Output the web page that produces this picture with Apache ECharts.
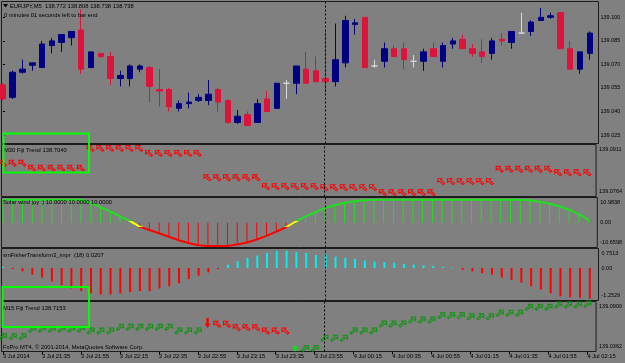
<!DOCTYPE html>
<html>
<head>
<meta charset="utf-8">
</head>
<body style="margin:0;background:#808080">
<div id="container" style="width:625px;height:363px"></div>
<script src="https://fastly.jsdelivr.net/npm/echarts@6.0.0/dist/echarts.min.js"></script>
<script>
// ---- data ----
const timeLabels = ['3 Jul 2014', '3 Jul 21:35', '3 Jul 21:55', '3 Jul 22:15', '3 Jul 22:35', '3 Jul 22:55',
  '3 Jul 23:15', '3 Jul 23:35', '3 Jul 23:55', '4 Jul 00:15', '4 Jul 00:35', '4 Jul 00:55',
  '4 Jul 01:15', '4 Jul 01:35', '4 Jul 01:55', '4 Jul 02:15'];
const labelEvery = 4;      // one time label every 4 bars (20 min on M5)
const daySeparator = 33;   // bar index of 4 Jul 00:00

// [open, close, low, high]
const candles = [
  [139.057, 139.048, 139.047, 139.058], [139.049, 139.065, 139.048, 139.066], [139.065, 139.067, 139.064, 139.073],
  [139.0695, 139.071, 139.066, 139.071], [139.068, 139.083, 139.068, 139.085], [139.082, 139.085, 139.077, 139.087],
  [139.084, 139.089, 139.078, 139.089], [139.087, 139.091, 139.082, 139.091], [139.092, 139.067, 139.064, 139.105],
  [139.068, 139.078, 139.068, 139.078], [139.077, 139.075, 139.074, 139.077], [139.075, 139.061, 139.057, 139.078],
  [139.061, 139.063, 139.056, 139.066], [139.061, 139.069, 139.056, 139.070], [139.067, 139.069, 139.065, 139.070],
  [139.068, 139.056, 139.046, 139.069], [139.054, 139.053, 139.043, 139.067], [139.054, 139.043, 139.040, 139.055],
  [139.042, 139.045, 139.040, 139.047], [139.045, 139.046, 139.042, 139.052], [139.047, 139.049, 139.046, 139.051],
  [139.047, 139.051, 139.044, 139.060], [139.054, 139.046, 139.040, 139.055], [139.047, 139.033, 139.032, 139.048],
  [139.033, 139.037, 139.032, 139.041], [139.038, 139.031, 139.031, 139.040], [139.033, 139.045, 139.033, 139.048],
  [139.048, 139.040, 139.040, 139.053], [139.042, 139.058, 139.042, 139.058], [139.058, 139.058, 139.048, 139.060],
  [139.058, 139.069, 139.051, 139.069], [139.067, 139.058, 139.058, 139.078], [139.066, 139.059, 139.059, 139.075],
  [139.061, 139.059, 139.052, 139.092], [139.059, 139.073, 139.056, 139.096], [139.071, 139.098, 139.068, 139.101],
  [139.0955, 139.0965, 139.089, 139.099], [139.100, 139.068, 139.068, 139.100], [139.069, 139.069, 139.068, 139.073],
  [139.072, 139.080, 139.068, 139.084], [139.080, 139.075, 139.075, 139.082], [139.080, 139.073, 139.067, 139.084],
  [139.072, 139.072, 139.068, 139.076], [139.072, 139.078, 139.066, 139.080], [139.080, 139.075, 139.075, 139.084],
  [139.072, 139.082, 139.068, 139.084], [139.083, 139.085, 139.080, 139.087], [139.086, 139.080, 139.080, 139.089],
  [139.080, 139.077, 139.075, 139.083], [139.078, 139.075, 139.071, 139.086], [139.077, 139.085, 139.073, 139.087],
  [139.086, 139.085, 139.082, 139.090], [139.084, 139.091, 139.080, 139.091], [139.090, 139.090, 139.090, 139.103],
  [139.091, 139.097, 139.088, 139.098], [139.098, 139.100, 139.098, 139.106], [139.100, 139.101, 139.099, 139.103],
  [139.103, 139.080, 139.080, 139.103], [139.080, 139.067, 139.067, 139.085], [139.067, 139.078, 139.064, 139.078],
  [139.077, 139.090, 139.073, 139.091]
];
const priceTicks = [139.025, 139.040, 139.055, 139.070, 139.085, 139.100];
const priceRange = [139.0196, 139.1101];

const m30Trend = [
  139.0858, 139.0858, 139.0858,
  139.0844, 139.0844, 139.0844, 139.0844, 139.0844, 139.0844,
  139.0900, 139.0900, 139.0900, 139.0900, 139.0900, 139.0900,
  139.0886, 139.0886, 139.0886, 139.0886, 139.0886, 139.0886,
  139.0817, 139.0817, 139.0817, 139.0817, 139.0817, 139.0817,
  139.0792, 139.0792, 139.0792, 139.0792, 139.0792, 139.0792,
  139.0789, 139.0789, 139.0789, 139.0789, 139.0789, 139.0789,
  139.0775, 139.0775, 139.0775, 139.0775, 139.0775, 139.0775,
  139.0806, 139.0806, 139.0806, 139.0806, 139.0806, 139.0806,
  139.0841, 139.0841, 139.0841, 139.0841, 139.0841, 139.0841,
  139.0831, 139.0831, 139.0831, 139.0831
];
const m30Range = [139.0764, 139.0911];

const solarWind = [
  10, 10, 10, 10, 10, 10, 10, 10, 10, 8.7, 6.8, 5.0, 2.8, 0.9, -1.6, -3.1, -4.5, -6.0, -7.5, -8.7,
  -9.7, -10, -10, -10, -9.4, -8.5, -7.2, -5.6, -3.8, -1.9, 0.6, 2.8, 4.6, 6.5, 7.6, 8.7, 9.4, 9.8,
  10, 10, 10, 10, 10, 10, 10, 10, 10, 10, 10, 10, 10, 10, 10, 10,
  9.8, 9.1, 8.3, 7.2, 5.7, 3.8, 1.3
];
const solarRange = [-10.6598, 10.9838];

const fisher = [
  0.05, -0.04, -0.13, -0.26, -0.37, -0.52, -0.66, -0.79, -0.89, -0.98, -1.02, -1.02, -0.98, -0.93, -0.89,
  -0.89, -0.79, -0.70, -0.59, -0.43, -0.30, -0.17, -0.04, 0.13, 0.26, 0.39, 0.48, 0.58, 0.66, 0.66,
  0.62, 0.58, 0.50, 0.52, 0.44, 0.39, 0.35, 0.29, 0.25, 0.22, 0.20, 0.16, 0.13, 0.10, 0.08,
  0.04, 0.02, -0.07, -0.13, -0.20, -0.26, -0.37, -0.46, -0.56, -0.70, -0.83, -0.98, -1.09, -1.13, -1.15,
  -1.18
];
const fisherRange = [-1.2529, 0.7513];

const m15Up = [
  139.0521, 139.0521, 139.0521, 139.0601, 139.0601, 139.0601, 139.0601, 139.0601, 139.0601,
  139.0582, 139.0582, 139.0582, 139.0622, 139.0622, 139.0622, 139.0622, 139.0622, 139.0622,
  139.0582, 139.0582, 139.0582, null, null, null, null, null, null, null, null, null, null,
  139.0396, 139.0396, 139.0504, 139.0504, 139.0504, 139.0582, 139.0582, 139.0582,
  139.0658, 139.0658, 139.0658, 139.0701, 139.0701, 139.0701, 139.0747, 139.0747, 139.0747,
  139.0736, 139.0736, 139.0736, 139.0773, 139.0773, 139.0773, 139.0838, 139.0838, 139.0838,
  139.0862, 139.0862, 139.0862, 139.0870
];
const m15Down = [
  null, null, null, null, null, null, null, null, null, null, null, null, null, null, null, null,
  null, null, null, null, null, null, 139.0655, 139.0655, 139.0618, 139.0618, 139.0618,
  139.0582, 139.0582, 139.0582, null, null, null, null, null, null, null, null, null, null,
  null, null, null, null, null, null, null, null, null, null, null, null, null, null, null,
  null, null, null, null, null, null
];
const m15Range = [139.0362, 139.0900];
const sellSignal = [[21, 139.0669]];
const buySignal = [[30, 139.0396]];

// ---- chart ----
const FONT = 'Liberation Sans';
const FRAME = '#1c1c1c';
const GREEN = '#1fe01f';
const RED = '#ff0000';
const ARROW_RED = 'path://M0,0 L6,0 L4,2 L10,8 L8,10 L2,4 L0,6 Z';
const ARROW_GREEN = 'path://M10,0 L4,0 L6,2 L0,8 L2,10 L8,4 L10,6 Z';

const panels = [
  { top: 1.5, height: 142 },
  { top: 144.5, height: 52 },
  { top: 197.5, height: 50 },
  { top: 248.5, height: 52 },
  { top: 301.5, height: 50 }
];
const tickBars = timeLabels.map((t, i) => i * labelEvery);

const sepLine = {
  silent: true,
  symbol: ['none', 'none'],
  label: { show: false },
  lineStyle: { color: '#000', type: [2, 2], width: 1 },
  data: [{ xAxis: daySeparator }]
};

function edgeAxis(idx, range, labels) {
  const lo = range[0], hi = range[1];
  const txt = { fontSize: 5.5, fontFamily: FONT, color: '#000' };
  return {
    type: 'value', gridIndex: idx, position: 'right', min: lo, max: hi,
    splitLine: { show: false }, axisLine: { show: false }, axisTick: { show: false },
    axisLabel: {
      customValues: labels, margin: 3, fontSize: 5.5, fontFamily: FONT, color: '#000',
      formatter: function (v) {
        const s = v === 0 ? '0.00' : v.toFixed(4);
        if (Math.abs(v - hi) < 1e-9) return '{t|' + s + '}';
        if (Math.abs(v - lo) < 1e-9) return '{b|' + s + '}';
        return s;
      },
      rich: {
        t: Object.assign({ padding: [10, 0, 0, 0] }, txt),
        b: Object.assign({ padding: [0, 0, 10, 0] }, txt)
      }
    }
  };
}

const toPoints = arr => arr.map((v, i) => [i, v]).filter(d => d[1] != null);

const myChart = echarts.init(document.getElementById('container'), null, { renderer: 'canvas' });

const option = {
  animation: false,
  backgroundColor: '#808080',
  grid: panels.map(p => ({
    left: 1.5, right: 26.5, top: p.top, height: p.height,
    show: true, borderColor: FRAME, borderWidth: 1, backgroundColor: 'transparent'
  })),
  xAxis: panels.map((p, i) => ({
    type: 'value', gridIndex: i, min: -0.15, max: 60.89, show: i === 4,
    splitLine: { show: false }, axisLine: { show: false },
    axisTick: { show: true, customValues: tickBars, length: 3, lineStyle: { color: '#000' } },
    axisLabel: {
      customValues: tickBars, align: 'left', margin: 2, fontSize: 5.8, fontFamily: FONT, color: '#000',
      formatter: v => timeLabels[Math.round(v / labelEvery)]
    }
  })),
  yAxis: [
    {
      type: 'value', gridIndex: 0, position: 'right', min: priceRange[0], max: priceRange[1],
      splitLine: { show: false }, axisLine: { show: false },
      axisTick: { show: true, customValues: priceTicks, length: 2, lineStyle: { color: '#000' } },
      axisLabel: {
        customValues: priceTicks, margin: 2, fontSize: 5.5, fontFamily: FONT, color: '#000',
        formatter: v => v.toFixed(3)
      }
    },
    edgeAxis(1, m30Range, [m30Range[1], m30Range[0]]),
    edgeAxis(2, solarRange, [solarRange[1], 0, solarRange[0]]),
    edgeAxis(3, fisherRange, [fisherRange[1], 0, fisherRange[0]]),
    edgeAxis(4, m15Range, [m15Range[1], m15Range[0]])
  ],
  visualMap: [{
    type: 'piecewise', show: false, seriesIndex: 3, dimension: 1,
    pieces: [
      { lt: -2, color: RED },
      { gte: -2, lt: 1, color: '#ffff00' },
      { gte: 1, color: GREEN }
    ]
  }],
  series: [
    {
      type: 'candlestick', xAxisIndex: 0, yAxisIndex: 0,
      data: candles.map((c, i) => [i].concat(c)),
      encode: { x: 0, y: [1, 2, 3, 4] },
      barWidth: 6,
      itemStyle: {
        color: '#000080', color0: '#dc143c',
        borderColor: '#000080', borderColor0: '#dc143c', borderColorDoji: '#d8d8d8', borderWidth: 1
      },
      markLine: sepLine
    },
    {
      type: 'scatter', xAxisIndex: 1, yAxisIndex: 1,
      data: toPoints(m30Trend),
      symbol: ARROW_RED, symbolSize: [7, 6],
      itemStyle: { color: 'rgba(0,0,0,0)', borderColor: RED, borderWidth: 1, opacity: 1 },
      markLine: sepLine
    },
    {
      type: 'bar', xAxisIndex: 2, yAxisIndex: 2,
      data: toPoints(solarWind), barWidth: 1,
      itemStyle: { color: p => (p.value[1] >= 0 ? GREEN : RED) },
      markLine: sepLine
    },
    {
      type: 'line', xAxisIndex: 2, yAxisIndex: 2,
      data: toPoints(solarWind), showSymbol: false, z: 3,
      lineStyle: { width: 2 }
    },
    {
      type: 'bar', xAxisIndex: 3, yAxisIndex: 3,
      data: toPoints(fisher), barWidth: 2,
      itemStyle: { color: p => (p.value[1] >= 0 ? '#00f0f0' : RED) },
      markLine: sepLine
    },
    {
      type: 'scatter', xAxisIndex: 4, yAxisIndex: 4,
      data: toPoints(m15Up),
      symbol: ARROW_GREEN, symbolSize: [7, 6],
      itemStyle: { color: 'rgba(0,0,0,0)', borderColor: '#0a960a', borderWidth: 1, opacity: 1 },
      markLine: sepLine
    },
    {
      type: 'scatter', xAxisIndex: 4, yAxisIndex: 4,
      data: toPoints(m15Down),
      symbol: ARROW_RED, symbolSize: [7, 6],
      itemStyle: { color: 'rgba(0,0,0,0)', borderColor: RED, borderWidth: 1, opacity: 1 }
    },
    {
      type: 'scatter', xAxisIndex: 4, yAxisIndex: 4,
      data: sellSignal,
      symbol: 'path://M3,0 L7,0 L7,7 L10,7 L5,12 L0,7 L3,7 Z', symbolSize: [6, 10],
      itemStyle: { color: RED, opacity: 1 }
    },
    {
      type: 'scatter', xAxisIndex: 4, yAxisIndex: 4,
      data: buySignal,
      symbol: 'path://M5,0 L10,5 L7,5 L7,10 L3,10 L3,5 L0,5 Z', symbolSize: [7, 6],
      itemStyle: { color: '#11dd11', opacity: 1 }
    }
  ],
  graphic: [
    { type: 'polygon', z: 100, shape: { points: [[3, 4], [8, 4], [5.5, 7.5]] }, style: { fill: '#000' } },
    { type: 'text', z: 100, x: 10, y: 6, style: { text: 'EURJPY,M5  138.772 138.808 138.738 138.738', fontSize: 5.8, fontFamily: FONT, fill: '#000', verticalAlign: 'middle' } },
    { type: 'text', z: 100, x: 4, y: 15, style: { text: '0 minutes 01 seconds left to bar end', fontSize: 5.8, fontFamily: FONT, fill: '#000', verticalAlign: 'middle' } },
    { type: 'text', z: 100, x: 4, y: 150, style: { text: 'M30 Fiji Trend 138.7040', fontSize: 5.8, fontFamily: FONT, fill: '#000', verticalAlign: 'middle' } },
    { type: 'text', z: 100, x: 3, y: 202, style: { text: 'Solar wind joy :) 10.0000 10.0000 10.0000', fontSize: 5.8, fontFamily: FONT, fill: '#000', verticalAlign: 'middle' } },
    { type: 'text', z: 100, x: 3, y: 255, style: { text: 'smFisherTransform3_impr  (18) 0.0207', fontSize: 5.8, fontFamily: FONT, fill: '#000', verticalAlign: 'middle' } },
    { type: 'text', z: 100, x: 3, y: 308, style: { text: 'M15 Fiji Trend 138.7153', fontSize: 5.8, fontFamily: FONT, fill: '#000', verticalAlign: 'middle' } },
    { type: 'text', z: 100, x: 3, y: 347, style: { text: 'FxPro MT4, © 2001-2014, MetaQuotes Software Corp.', fontSize: 5.8, fontFamily: FONT, fill: '#000', verticalAlign: 'middle' } },
    { type: 'rect', z: 101, shape: { x: 3.5, y: 133.5, width: 85.5, height: 39 }, style: { fill: 'none', stroke: '#00ff00', lineWidth: 2 } },
    { type: 'rect', z: 101, shape: { x: 2.5, y: 287, width: 86.5, height: 40 }, style: { fill: 'none', stroke: '#00ff00', lineWidth: 2 } }
  ]
};

myChart.setOption(option);
window.addEventListener('resize', myChart.resize);
</script>
</body>
</html>
